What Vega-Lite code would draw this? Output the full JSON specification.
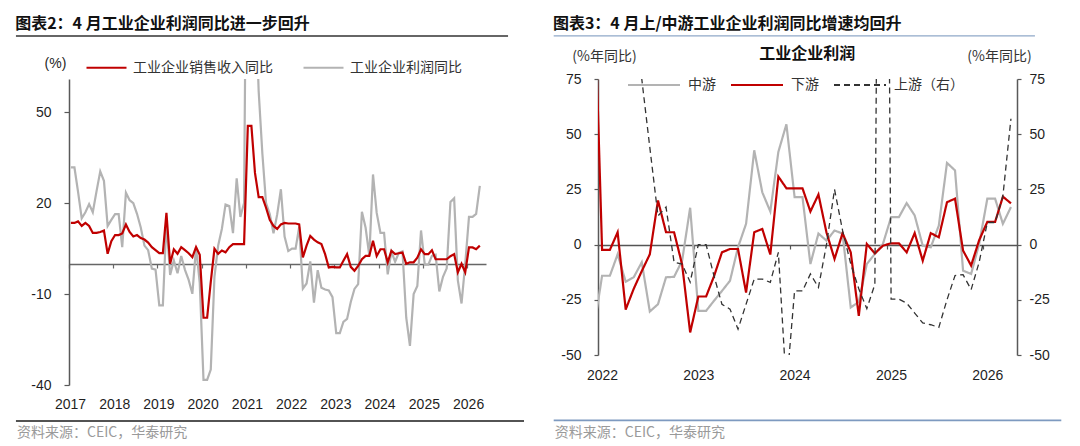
{
  "$schema": "https://vega.github.io/schema/vega-lite/v6.json",
  "background": "white",
  "padding": {"left": 15, "top": 16, "right": 5, "bottom": 4},
  "spacing": 27,
  "resolve": {"scale": {"color": "independent", "strokeDash": "independent"}, "legend": {"color": "independent", "strokeDash": "independent"}},
  "config": {
    "view": {"stroke": null},
    "font": "Liberation Sans",
    "axis": {
      "labelFont": "Liberation Sans",
      "labelFontSize": 14,
      "labelColor": "#1f1f1f",
      "domainColor": "#595959",
      "domainWidth": 1.5,
      "tickColor": "#595959",
      "tickWidth": 1.2,
      "grid": false
    },
    "legend": {
      "labelFont": "Noto Sans CJK SC",
      "labelFontSize": 14,
      "labelColor": "#333333",
      "labelLimit": 400,
      "padding": 0,
      "symbolType": "stroke"
    },
    "title": {
      "font": "Noto Sans CJK SC",
      "fontSize": 16,
      "fontWeight": "bold",
      "color": "#111111",
      "anchor": "start",
      "frame": "bounds",
      "offset": 3
    }
  },
  "datasets": {
    "total": [
      {"month": "2017-01", "rev": 13.5, "profit": 31.8},
      {"month": "2017-02", "rev": 13.5, "profit": 31.8},
      {"month": "2017-03", "rev": 14, "profit": 23.8},
      {"month": "2017-04", "rev": 12.5, "profit": 15},
      {"month": "2017-05", "rev": 13.5, "profit": 17},
      {"month": "2017-06", "rev": 12.5, "profit": 19.7},
      {"month": "2017-07", "rev": 10.2, "profit": 17},
      {"month": "2017-08", "rev": 10.2, "profit": 24},
      {"month": "2017-09", "rev": 10.5, "profit": 30.5},
      {"month": "2017-10", "rev": 11, "profit": 27.4},
      {"month": "2017-11", "rev": 3.3, "profit": 12.5},
      {"month": "2017-12", "rev": 7.5, "profit": 14.5},
      {"month": "2018-01", "rev": 9.5, "profit": 16.4},
      {"month": "2018-02", "rev": 9.5, "profit": 16.4},
      {"month": "2018-03", "rev": 10, "profit": 5.5},
      {"month": "2018-04", "rev": 13, "profit": 23.5},
      {"month": "2018-05", "rev": 10.5, "profit": 21},
      {"month": "2018-06", "rev": 9, "profit": 20},
      {"month": "2018-07", "rev": 9.5, "profit": 16.5},
      {"month": "2018-08", "rev": 8.5, "profit": 12},
      {"month": "2018-09", "rev": 8, "profit": 6},
      {"month": "2018-10", "rev": 7, "profit": 4.5},
      {"month": "2018-11", "rev": 5.5, "profit": -1.6},
      {"month": "2018-12", "rev": 4.5, "profit": -1.9},
      {"month": "2019-01", "rev": 3.5, "profit": -13.7},
      {"month": "2019-02", "rev": 3.5, "profit": -13.7},
      {"month": "2019-03", "rev": 16.8, "profit": 13.9},
      {"month": "2019-04", "rev": 0, "profit": -3.7},
      {"month": "2019-05", "rev": 4.8, "profit": 1.1},
      {"month": "2019-06", "rev": 3.3, "profit": -3.1},
      {"month": "2019-07", "rev": 5.5, "profit": 2.6},
      {"month": "2019-08", "rev": 4.5, "profit": -2},
      {"month": "2019-09", "rev": 3.5, "profit": -5.3},
      {"month": "2019-10", "rev": 2.2, "profit": -9.9},
      {"month": "2019-11", "rev": 5.5, "profit": 5.4},
      {"month": "2019-12", "rev": 3, "profit": -6.3},
      {"month": "2020-01", "rev": -17.8, "profit": -38.3},
      {"month": "2020-02", "rev": -17.8, "profit": -38.3},
      {"month": "2020-03", "rev": -6, "profit": -34.9},
      {"month": "2020-04", "rev": 5, "profit": -4.3},
      {"month": "2020-05", "rev": 3.3, "profit": 6},
      {"month": "2020-06", "rev": 4.4, "profit": 11.5},
      {"month": "2020-07", "rev": 3.8, "profit": 19.6},
      {"month": "2020-08", "rev": 5.5, "profit": 19.1},
      {"month": "2020-09", "rev": 6.5, "profit": 10.1},
      {"month": "2020-10", "rev": 6.5, "profit": 28.2},
      {"month": "2020-11", "rev": 6.5, "profit": 15.5},
      {"month": "2020-12", "rev": 6.5, "profit": 20.1},
      {"month": "2021-01", "rev": 45.5, "profit": 178.9},
      {"month": "2021-02", "rev": 45.5, "profit": 178.9},
      {"month": "2021-03", "rev": 30, "profit": 92.3},
      {"month": "2021-04", "rev": 22, "profit": 57},
      {"month": "2021-05", "rev": 22, "profit": 36.4},
      {"month": "2021-06", "rev": 18.5, "profit": 20},
      {"month": "2021-07", "rev": 14.5, "profit": 16.4},
      {"month": "2021-08", "rev": 12.5, "profit": 10.1},
      {"month": "2021-09", "rev": 11.5, "profit": 16.3},
      {"month": "2021-10", "rev": 13, "profit": 24.6},
      {"month": "2021-11", "rev": 13.5, "profit": 9},
      {"month": "2021-12", "rev": 13.3, "profit": 4.2},
      {"month": "2022-01", "rev": 13.3, "profit": 5},
      {"month": "2022-02", "rev": 13.3, "profit": 5},
      {"month": "2022-03", "rev": 13, "profit": 12.2},
      {"month": "2022-04", "rev": 2.1, "profit": -8.2},
      {"month": "2022-05", "rev": 6, "profit": -6.5},
      {"month": "2022-06", "rev": 9.2, "profit": 0.8},
      {"month": "2022-07", "rev": 8, "profit": -12.8},
      {"month": "2022-08", "rev": 7.1, "profit": -2.1},
      {"month": "2022-09", "rev": 6.5, "profit": -7.9},
      {"month": "2022-10", "rev": 3.2, "profit": -8.5},
      {"month": "2022-11", "rev": -1.2, "profit": -8.8},
      {"month": "2022-12", "rev": -1, "profit": -11},
      {"month": "2023-01", "rev": -1.2, "profit": -22.9},
      {"month": "2023-02", "rev": -1.2, "profit": -22.9},
      {"month": "2023-03", "rev": 1, "profit": -19.2},
      {"month": "2023-04", "rev": 3.2, "profit": -18.2},
      {"month": "2023-05", "rev": -1, "profit": -12.6},
      {"month": "2023-06", "rev": -2.3, "profit": -8.3},
      {"month": "2023-07", "rev": -0.7, "profit": -6.7},
      {"month": "2023-08", "rev": 1.5, "profit": 17.2},
      {"month": "2023-09", "rev": 2.6, "profit": 11.9},
      {"month": "2023-10", "rev": 2.6, "profit": 2.7},
      {"month": "2023-11", "rev": 7.6, "profit": 29.5},
      {"month": "2023-12", "rev": 2.6, "profit": 16.8},
      {"month": "2024-01", "rev": 4.8, "profit": 10.2},
      {"month": "2024-02", "rev": 4.8, "profit": 10.2},
      {"month": "2024-03", "rev": 0.5, "profit": -3.5},
      {"month": "2024-04", "rev": 4.3, "profit": 4},
      {"month": "2024-05", "rev": 3.2, "profit": 0.7},
      {"month": "2024-06", "rev": 3.5, "profit": 3.6},
      {"month": "2024-07", "rev": 3.7, "profit": 4.1},
      {"month": "2024-08", "rev": 0, "profit": -17.8},
      {"month": "2024-09", "rev": 0.5, "profit": -27.1},
      {"month": "2024-10", "rev": 0.5, "profit": -10},
      {"month": "2024-11", "rev": 2, "profit": -7.3},
      {"month": "2024-12", "rev": 4.8, "profit": 11},
      {"month": "2025-01", "rev": 3.2, "profit": -0.3},
      {"month": "2025-02", "rev": 3.2, "profit": -0.3},
      {"month": "2025-03", "rev": 4.5, "profit": 2.6},
      {"month": "2025-04", "rev": 1.5, "profit": 3},
      {"month": "2025-05", "rev": 1.5, "profit": -9.1},
      {"month": "2025-06", "rev": 1.5, "profit": -4.3},
      {"month": "2025-07", "rev": 1.5, "profit": -1.5},
      {"month": "2025-08", "rev": 2.5, "profit": 20.4},
      {"month": "2025-09", "rev": 3.2, "profit": 21.6},
      {"month": "2025-10", "rev": -2.8, "profit": -5.5},
      {"month": "2025-11", "rev": 0, "profit": -13.1},
      {"month": "2025-12", "rev": -2.8, "profit": 0},
      {"month": "2026-01", "rev": 5.4, "profit": 15.5},
      {"month": "2026-02", "rev": 5.4, "profit": 15.5},
      {"month": "2026-03", "rev": 4.8, "profit": 16.5},
      {"month": "2026-04", "rev": 6, "profit": 25.7}
    ],
    "chain": [
      {"month": "2021-12", "mid": -38, "down": 122, "up": 130},
      {"month": "2022-01", "mid": -14.1, "down": -2.4, "up": 130},
      {"month": "2022-02", "mid": -14.1, "down": -2.4, "up": 130},
      {"month": "2022-03", "mid": -4.4, "down": 5.6, "up": 115},
      {"month": "2022-04", "mid": -16.8, "down": -29.4, "up": 100},
      {"month": "2022-05", "mid": -14.8, "down": -20, "up": 90},
      {"month": "2022-06", "mid": -8, "down": -12, "up": 75},
      {"month": "2022-07", "mid": -30.3, "down": -4.4, "up": 44},
      {"month": "2022-08", "mid": -27, "down": 20, "up": 13},
      {"month": "2022-09", "mid": -14.8, "down": 5.6, "up": 17},
      {"month": "2022-10", "mid": -14.6, "down": 5.6, "up": -8},
      {"month": "2022-11", "mid": -7.3, "down": -9, "up": -8.8},
      {"month": "2022-12", "mid": 16.7, "down": -39.8, "up": -17},
      {"month": "2023-01", "mid": -30, "down": -23.5, "up": 0},
      {"month": "2023-02", "mid": -30, "down": -23.5, "up": 0},
      {"month": "2023-03", "mid": -25.5, "down": -14.5, "up": -14},
      {"month": "2023-04", "mid": -21, "down": -3.5, "up": -27},
      {"month": "2023-05", "mid": -16.4, "down": -2, "up": -29.2},
      {"month": "2023-06", "mid": -1.2, "down": -2, "up": -38.3},
      {"month": "2023-07", "mid": 9.4, "down": -21.7, "up": -27},
      {"month": "2023-08", "mid": 42.7, "down": 5.6, "up": -15.6},
      {"month": "2023-09", "mid": 23.7, "down": 7.1, "up": -15.6},
      {"month": "2023-10", "mid": 15, "down": -4.5, "up": -17.1},
      {"month": "2023-11", "mid": 42, "down": 30.8, "up": -3.5},
      {"month": "2023-12", "mid": 54.5, "down": 25.5, "up": -65},
      {"month": "2024-01", "mid": 21.5, "down": 25.5, "up": -21},
      {"month": "2024-02", "mid": 21.5, "down": 25.5, "up": -21},
      {"month": "2024-03", "mid": -8.8, "down": 15, "up": -13.3},
      {"month": "2024-04", "mid": 5, "down": 22.7, "up": -19.4},
      {"month": "2024-05", "mid": 1.8, "down": 5.5, "up": 0},
      {"month": "2024-06", "mid": 6.4, "down": -6.5, "up": 25},
      {"month": "2024-07", "mid": 5, "down": 5.2, "up": 6.4},
      {"month": "2024-08", "mid": -28.5, "down": -3.5, "up": -8.8},
      {"month": "2024-09", "mid": -25.9, "down": -32.3, "up": -20},
      {"month": "2024-10", "mid": -8.8, "down": 0.3, "up": -29},
      {"month": "2024-11", "mid": -4.2, "down": -4, "up": -18},
      {"month": "2024-12", "mid": 0.3, "down": -0.5, "up": 500},
      {"month": "2025-01", "mid": 12.4, "down": 0.6, "up": -24.7},
      {"month": "2025-02", "mid": 12.4, "down": 0.6, "up": -24.7},
      {"month": "2025-03", "mid": 18.8, "down": -3.5, "up": -26.5},
      {"month": "2025-04", "mid": 13.2, "down": 5.2, "up": -31},
      {"month": "2025-05", "mid": -0.5, "down": -7.3, "up": -35.5},
      {"month": "2025-06", "mid": -1.2, "down": 5.2, "up": -36.3},
      {"month": "2025-07", "mid": 8.6, "down": 3.3, "up": -37.5},
      {"month": "2025-08", "mid": 37, "down": 19.2, "up": -25},
      {"month": "2025-09", "mid": 33.6, "down": 20.8, "up": -14},
      {"month": "2025-10", "mid": -11.8, "down": -2.7, "up": -13.6},
      {"month": "2025-11", "mid": -13.3, "down": -9.5, "up": -20.4},
      {"month": "2025-12", "mid": 0.3, "down": 2, "up": -8},
      {"month": "2026-01", "mid": 20.8, "down": 10.3, "up": 10},
      {"month": "2026-02", "mid": 20.8, "down": 10.3, "up": 10},
      {"month": "2026-03", "mid": 9.4, "down": 21.7, "up": 22},
      {"month": "2026-04", "mid": 17, "down": 18.7, "up": 57}
    ]
  },
  "hconcat": [
    {
      "width": 417,
      "height": 306,
      "title": {"text": "图表2：4 月工业企业利润同比进一步回升"},
      "data": {"name": "total"},
      "layer": [
        {
          "mark": {"type": "line", "strokeWidth": 2.2, "clip": true},
          "encoding": {
            "x": {
              "field": "month", "type": "temporal", "timeUnit": "utcyearmonth", "bandPosition": 0.5,
              "scale": {"domain": [{"year": 2017, "month": 1, "date": 1, "utc": true}, {"year": 2026, "month": 6, "date": 6, "utc": true}], "nice": false},
              "axis": {
                "title": null, "labelExpr": "utcFormat(datum.value, '%Y')", "tickCount": "year",
                "labelFlush": false, "labelOverlap": false, "offset": -121,
                "domainColor": "#666666", "domainWidth": 1.6,
                "tickSize": 4, "tickColor": "#666666", "labelPadding": 129, "labelOffset": 1
              }
            },
            "y": {
              "field": "profit", "type": "quantitative",
              "scale": {"domain": [-40, 61], "nice": false, "zero": false},
              "axis": {
                "values": [-40, -10, 20, 50], "labelExpr": "'' + datum.value",
                "tickSize": 5, "labelPadding": 13,
                "title": "(%)", "titleAngle": 0, "titleX": -14, "titleY": -16,
                "titleAlign": "center", "titleBaseline": "middle",
                "titleFont": "Liberation Sans", "titleFontSize": 14, "titleFontWeight": "normal", "titleColor": "#1f1f1f"
              }
            },
            "color": {
              "datum": "工业企业利润同比",
              "scale": {"domain": ["工业企业销售收入同比", "工业企业利润同比"], "range": ["#C00000", "#B3B3B3"]},
              "legend": {
                "title": null, "orient": "none", "direction": "horizontal",
                "legendX": 16, "legendY": -33,
                "symbolSize": 1600, "symbolStrokeWidth": 2.2,
                "labelOffset": 5, "columnPadding": 26
              }
            }
          }
        },
        {
          "mark": {"type": "line", "strokeWidth": 2.2, "clip": true},
          "encoding": {
            "x": {"field": "month", "type": "temporal", "timeUnit": "utcyearmonth", "bandPosition": 0.5,
                  "scale": {"domain": [{"year": 2017, "month": 1, "date": 1, "utc": true}, {"year": 2026, "month": 6, "date": 6, "utc": true}], "nice": false}},
            "y": {"field": "rev", "type": "quantitative", "scale": {"domain": [-40, 61], "nice": false, "zero": false}},
            "color": {"datum": "工业企业销售收入同比"}
          }
        },
        {
          "data": {"values": [{}]},
          "mark": {"type": "rule", "color": "#333333", "strokeWidth": 1.6},
          "encoding": {
            "x": {"datum": {"year": 2015, "month": 10, "date": 21, "utc": true}, "type": "temporal",
                  "scale": {"domain": [{"year": 2017, "month": 1, "date": 1, "utc": true}, {"year": 2026, "month": 6, "date": 6, "utc": true}], "nice": false}},
            "x2": {"datum": {"year": 2026, "month": 12, "date": 5, "utc": true}},
            "y": {"datum": 75.2, "type": "quantitative", "scale": {"domain": [-40, 61], "nice": false, "zero": false}}
          }
        },
        {
          "data": {"values": [{}]},
          "mark": {"type": "rule", "color": "#1a1a1a", "strokeWidth": 1.6},
          "encoding": {
            "x": {"datum": {"year": 2015, "month": 10, "date": 21, "utc": true}, "type": "temporal",
                  "scale": {"domain": [{"year": 2017, "month": 1, "date": 1, "utc": true}, {"year": 2026, "month": 6, "date": 6, "utc": true}], "nice": false}},
            "x2": {"datum": {"year": 2027, "month": 4, "date": 16, "utc": true}},
            "y": {"datum": -51.9, "type": "quantitative", "scale": {"domain": [-40, 61], "nice": false, "zero": false}}
          }
        },
        {
          "data": {"values": [{}]},
          "mark": {"type": "text", "align": "left", "baseline": "middle", "dx": 1, "font": "Noto Sans CJK SC", "fontSize": 14, "color": "#9a9a9a"},
          "encoding": {
            "x": {"datum": {"year": 2015, "month": 10, "date": 21, "utc": true}, "type": "temporal",
                  "scale": {"domain": [{"year": 2017, "month": 1, "date": 1, "utc": true}, {"year": 2026, "month": 6, "date": 6, "utc": true}], "nice": false}},
            "y": {"datum": -55.8, "type": "quantitative", "scale": {"domain": [-40, 61], "nice": false, "zero": false}},
            "text": {"value": "资料来源：CEIC，华泰研究"}
          }
        }
      ]
    },
    {
      "width": 419,
      "height": 276,
      "title": {"text": "图表3：4 月上/中游工业企业利润同比增速均回升"},
      "data": {"name": "chain"},
      "resolve": {"scale": {"y": "independent"}},
      "layer": [
        {
          "layer": [
            {
              "mark": {"type": "line", "strokeWidth": 2.2, "clip": true},
              "encoding": {
                "x": {
                  "field": "month", "type": "temporal", "timeUnit": "utcyearmonth", "bandPosition": 0.5,
                  "scale": {"domain": [{"year": 2022, "month": 1, "date": 1, "utc": true}, {"year": 2026, "month": 5, "date": 9, "utc": true}], "nice": false},
                  "axis": {
                    "title": null, "labelExpr": "utcFormat(datum.value, '%Y')", "tickCount": "year",
                    "labelFlush": false, "labelOverlap": false, "offset": -110,
                    "domainColor": "#555555", "domainWidth": 1.5,
                    "tickSize": 4, "tickColor": "#555555", "labelPadding": 119, "labelOffset": 4
                  }
                },
                "y": {
                  "field": "mid", "type": "quantitative",
                  "scale": {"domain": [-50, 75], "nice": false, "zero": false},
                  "axis": {
                    "orient": "left", "values": [-50, -25, 0, 25, 50, 75], "labelExpr": "'' + datum.value",
                    "tickSize": 4, "labelPadding": 13,
                    "title": "(%年同比)", "titleAngle": 0, "titleX": 6, "titleY": -23,
                    "titleAlign": "center", "titleBaseline": "middle",
                    "titleFont": "Noto Sans CJK SC", "titleFontSize": 14, "titleFontWeight": "normal", "titleColor": "#333333"
                  }
                },
                "color": {
                  "datum": "中游",
                  "scale": {"domain": ["中游", "下游", "上游（右）"], "range": ["#B3B3B3", "#C00000", "#333333"]},
                  "legend": {
                    "title": null, "orient": "none", "direction": "horizontal",
                    "legendX": 29, "legendY": -21,
                    "symbolSize": 2704, "symbolStrokeWidth": 2,
                    "labelOffset": 7, "columnPadding": 11
                  }
                },
                "strokeDash": {
                  "datum": "中游",
                  "scale": {"domain": ["中游", "下游", "上游（右）"], "range": [[1, 0], [1, 0], [6, 4]]}
                }
              }
            },
            {
              "mark": {"type": "line", "strokeWidth": 2.2, "clip": true},
              "encoding": {
                "x": {"field": "month", "type": "temporal", "timeUnit": "utcyearmonth", "bandPosition": 0.5,
                      "scale": {"domain": [{"year": 2022, "month": 1, "date": 1, "utc": true}, {"year": 2026, "month": 5, "date": 9, "utc": true}], "nice": false}},
                "y": {"field": "down", "type": "quantitative", "scale": {"domain": [-50, 75], "nice": false, "zero": false}},
                "color": {"datum": "下游"},
                "strokeDash": {"datum": "下游"}
              }
            },
            {
              "data": {"values": [{}]},
              "mark": {"type": "rule", "color": "#8FA8C8", "strokeWidth": 1.3},
              "encoding": {
                "x": {"datum": {"year": 2021, "month": 7, "date": 17, "utc": true}, "type": "temporal",
                      "scale": {"domain": [{"year": 2022, "month": 1, "date": 1, "utc": true}, {"year": 2026, "month": 5, "date": 9, "utc": true}], "nice": false}},
                "x2": {"datum": {"year": 2026, "month": 7, "date": 16, "utc": true}},
                "y": {"datum": 94.5, "type": "quantitative", "scale": {"domain": [-50, 75], "nice": false, "zero": false}}
              }
            },
            {
              "data": {"values": [{}]},
              "mark": {"type": "rule", "color": "#7E9AC0", "strokeWidth": 1.6},
              "encoding": {
                "x": {"datum": {"year": 2021, "month": 7, "date": 17, "utc": true}, "type": "temporal",
                      "scale": {"domain": [{"year": 2022, "month": 1, "date": 1, "utc": true}, {"year": 2026, "month": 5, "date": 9, "utc": true}], "nice": false}},
                "x2": {"datum": {"year": 2026, "month": 10, "date": 24, "utc": true}},
                "y": {"datum": -79.6, "type": "quantitative", "scale": {"domain": [-50, 75], "nice": false, "zero": false}}
              }
            },
            {
              "data": {"values": [{}]},
              "mark": {"type": "text", "align": "left", "baseline": "middle", "dx": 1, "font": "Noto Sans CJK SC", "fontSize": 14, "color": "#9a9a9a"},
              "encoding": {
                "x": {"datum": {"year": 2021, "month": 7, "date": 17, "utc": true}, "type": "temporal",
                      "scale": {"domain": [{"year": 2022, "month": 1, "date": 1, "utc": true}, {"year": 2026, "month": 5, "date": 9, "utc": true}], "nice": false}},
                "y": {"datum": -85.3, "type": "quantitative", "scale": {"domain": [-50, 75], "nice": false, "zero": false}},
                "text": {"value": "资料来源：CEIC，华泰研究"}
              }
            },
            {
              "data": {"values": [{}]},
              "mark": {"type": "text", "align": "center", "baseline": "middle", "font": "Noto Sans CJK SC", "fontSize": 16, "fontWeight": "bold", "color": "#111111"},
              "encoding": {
                "x": {"datum": {"year": 2024, "month": 3, "date": 5, "utc": true}, "type": "temporal",
                      "scale": {"domain": [{"year": 2022, "month": 1, "date": 1, "utc": true}, {"year": 2026, "month": 5, "date": 9, "utc": true}], "nice": false}},
                "y": {"datum": 86.3, "type": "quantitative", "scale": {"domain": [-50, 75], "nice": false, "zero": false}},
                "text": {"value": "工业企业利润"}
              }
            }
          ]
        },
        {
          "mark": {"type": "line", "strokeWidth": 1.3, "clip": true},
          "encoding": {
            "x": {"field": "month", "type": "temporal", "timeUnit": "utcyearmonth", "bandPosition": 0.5,
                  "scale": {"domain": [{"year": 2022, "month": 1, "date": 1, "utc": true}, {"year": 2026, "month": 5, "date": 9, "utc": true}], "nice": false}},
            "y": {
              "field": "up", "type": "quantitative",
              "scale": {"domain": [-50, 75], "nice": false, "zero": false},
              "axis": {
                "orient": "right", "values": [-50, -25, 0, 25, 50, 75], "labelExpr": "'' + datum.value",
                "tickSize": 4, "labelPadding": 8,
                "title": "(%年同比)", "titleAngle": 0, "titleX": -18, "titleY": -23,
                "titleAlign": "center", "titleBaseline": "middle",
                "titleFont": "Noto Sans CJK SC", "titleFontSize": 14, "titleFontWeight": "normal", "titleColor": "#333333"
              }
            },
            "color": {"datum": "上游（右）"},
            "strokeDash": {"datum": "上游（右）"}
          }
        }
      ]
    }
  ]
}
